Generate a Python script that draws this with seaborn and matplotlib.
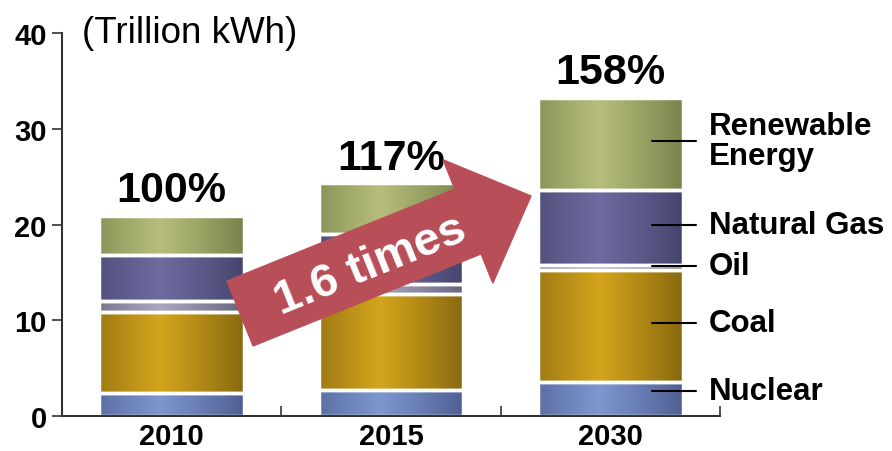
import numpy as np
import pandas as pd
import matplotlib.pyplot as plt
import matplotlib.patches as mpatches
import matplotlib.colors as mcolors
import seaborn as sns

# data (trillion kWh)
years = ["2010", "2015", "2030"]
sources = ["Nuclear", "Coal", "Oil", "Natural Gas", "Renewable\nEnergy"]
nuclear = [2.4, 2.7, 3.6]
coal = [8.5, 10.0, 11.6]
oil = [1.1, 1.1, 0.6]
gas = [4.8, 5.2, 7.8]
renewable = [4.1, 5.3, 9.6]
pct_labels = ["100%", "117%", "158%"]

# colors: (edge shade, centre highlight)
shades = [("#4f5e92", "#7d97cf"),
          ("#876810", "#d4a41c"),
          ("#67637e", "#aaa6be"),
          ("#45446d", "#6e6ca0"),
          ("#78824a", "#b7be7c")]

sns.set_style("white")
plt.rcParams['font.family'] = ['Liberation Sans', 'DejaVu Sans']
plt.rcParams['text.color'] = 'black'
plt.rcParams['xtick.color'] = 'black'
plt.rcParams['ytick.color'] = 'black'

fig = plt.figure(figsize=(8.92, 4.52), dpi=100)
ax = fig.add_axes([0.0695, 0.0774, 0.7375, 0.8474])

layers = [nuclear, coal, oil, gas, renewable]
bottom = np.zeros(len(years))
for vals, (dark, light) in zip(layers, shades):
    df = pd.DataFrame({"year": years, "value": vals})
    sns.barplot(data=df, x="year", y="value", bottom=bottom, color=light,
                width=0.66, edgecolor="white", linewidth=2.5, ax=ax)
    bottom = bottom + np.array(vals)

# cylindrical shading: gradient image behind each bar, white outline on top
t = np.linspace(0, 1, 80)
prof = np.clip(1 - np.abs(t - 0.42) / 0.58, 0, 1) ** 0.9
for i, p in enumerate(ax.patches):
    dark, light = shades[i // len(years)]
    c0 = np.array(mcolors.to_rgb(dark))
    c1 = np.array(mcolors.to_rgb(light))
    img = c0[None, None, :] + (c1 - c0)[None, None, :] * prof[None, :, None]
    x, y, w, h = p.get_x(), p.get_y(), p.get_width(), p.get_height()
    ax.imshow(img, extent=(x, x + w, y, y + h), aspect="auto",
              interpolation="bilinear", zorder=1)
    p.set_facecolor("none")
    p.set_zorder(2)

ax.set_xlim(-0.5, 2.5)
ax.set_ylim(0, 40)
ax.set_yticks([0, 10, 20, 30, 40])
ax.set_xlabel("")
ax.set_ylabel("")
for lab in ax.get_xticklabels() + ax.get_yticklabels():
    lab.set_fontweight("bold")
ax.tick_params(axis="y", labelsize=21, length=7, width=1.2, direction="out",
               left=True, color="#333333", pad=4)
ax.tick_params(axis="x", labelsize=21, length=0, pad=4)
ax.set_xticks([0.5, 1.5, 2.5], minor=True)
ax.tick_params(axis="x", which="minor", length=7, width=1.2, direction="in",
               bottom=True, color="#333333")
sns.despine(ax=ax)
for s in ["left", "bottom"]:
    ax.spines[s].set_color("#333333")
    ax.spines[s].set_linewidth(1.5)

ax.text(0.03, 1.0, "(Trillion kWh)", transform=ax.transAxes, fontsize=26.5,
        ha="left", va="center")

totals = bottom
for i, lab in enumerate(pct_labels):
    ax.text(i, totals[i] + 0.6, lab, ha="center", va="bottom",
            fontsize=31, fontweight="bold", zorder=5)

# source labels with leader lines on the right of the 2030 bar
label_y = [2.6, 9.7, 15.7, 20.0, 28.7]
for name, yy in zip(sources, label_y):
    ax.plot([2.19, 2.39], [yy, yy], color="black", lw=1.5, clip_on=False,
            zorder=4)
    ax.text(2.45, yy, name, ha="left", va="center", fontsize=22.5,
            fontweight="bold", clip_on=False, linespacing=1.0)

# big red arrow (figure inches)
arrow = mpatches.FancyArrow(2.40, 1.375, 2.91, 1.175, width=0.70,
                            head_width=1.33, head_length=0.68,
                            length_includes_head=True, color="#b84f58",
                            transform=fig.dpi_scale_trans, zorder=6)
fig.add_artist(arrow)
fig.text(3.70, 1.86, "1.6 times", transform=fig.dpi_scale_trans,
         rotation=22, ha="center", va="center", fontsize=34,
         fontweight="bold", color="white", zorder=7,
         rotation_mode="anchor")

fig.savefig("out.png", dpi=100)
